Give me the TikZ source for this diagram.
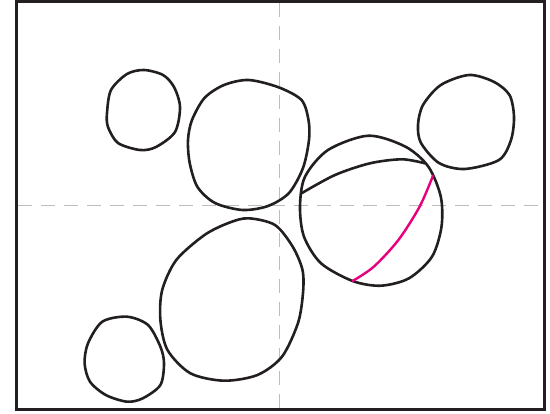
\documentclass[tikz,border=0pt]{standalone}
\usetikzlibrary{calc}
\definecolor{ink}{HTML}{231F20}
\definecolor{guide}{HTML}{BDBDBD}
\definecolor{mag}{HTML}{E6007E}
\tikzset{
  blob/.style={draw=ink, line width=2.6pt, line join=round},
  guideline/.style={draw=guide, line width=1.9pt, dash pattern=on 14pt off 9pt},
  framebox/.style={draw=ink, line width=3pt},
  chordline/.style={draw=ink, line width=2.6pt, line cap=round},
  magline/.style={draw=mag, line width=2.4pt, line cap=round}
}
\begin{document}
\begin{tikzpicture}[x=1pt,y=-1pt]
\useasboundingbox (0,0) rectangle (550,414);
% guides
\draw[guideline] (279.5,3) -- (279.5,408);
\draw[guideline] (18,205.5) -- (543,205.5);
% frame
\draw[framebox] (16.5,1.5) rectangle (544.7,409.8);
% A
\draw[blob] plot[smooth cycle, tension=0.5] coordinates {(144,70) (163,75) (174,87) (180,107) (175,132) (156,147) (140,150) (118,143) (108,127) (107,113) (111,90) (127,74)};
% B
\draw[blob] plot[smooth cycle, tension=0.5] coordinates {(248.6,80) (278.6,87.3) (301.5,100) (308.5,120) (309,140) (303,168) (289,193) (268,206) (242.6,210) (215,203) (197.5,187) (189.7,163) (188,140) (192,120) (204.5,98) (224,85)};
% C
\draw[blob] plot[smooth cycle, tension=0.5] coordinates {(469,75) (493.6,81.7) (509.5,95) (514,116.7) (511,140) (499,160) (464.7,169) (439,163) (421,143) (418,125) (423,105) (440.8,85)};
% D
\draw[blob] plot[smooth cycle, tension=0.5] coordinates {(368.5,135.7) (405.5,146.7) (428.4,166.7) (440.8,196.7) (441.5,226.7) (432,256.7) (409,278.3) (380.8,285.7) (352.6,281) (321,263.3) (304,236.7) (300,206.7) (305,176.7) (328,150)};
\draw[chordline] plot[smooth, tension=0.5] coordinates {(301.5,193.3) (335,175) (370,163.3) (402,159.3) (425,163.3)};
\draw[magline] plot[smooth, tension=0.5] coordinates {(433,175.7) (419.6,206.7) (398.4,240) (373.8,266.7) (352.6,281)};
% E
\draw[blob] plot[smooth cycle, tension=0.5] coordinates {(248.6,218.3) (275,225) (292.7,246.7) (302.5,270) (303,293) (298,323) (282,356.7) (257.4,375) (224,380.7) (190.4,373.3) (167.5,350) (160.4,320) (162.2,290) (176.3,260) (204.5,235) (229.2,222.7)};
% F
\draw[blob] plot[smooth cycle, tension=0.5] coordinates {(127,316.7) (148,325) (160.4,346.7) (164,363.3) (160.4,385) (142.8,398.3) (127,401.7) (105.8,395) (90,381.7) (84.6,363.3) (88,343.3) (102.3,321.7)};
\end{tikzpicture}
\end{document}
